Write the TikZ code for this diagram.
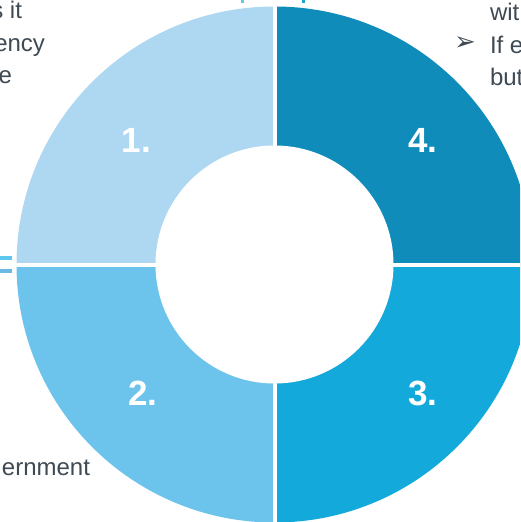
\documentclass[tikz,border=0pt]{standalone}
\usepackage{fontspec}
\setmainfont{Liberation Sans}
\newfontfamily\symfont{DejaVu Sans}
\begin{document}
\begin{tikzpicture}[x=1pt,y=-1pt,
  every node/.style={inner sep=0pt,outer sep=0pt},
  bodytext/.style={text=txtgray,font=\fontsize{24}{28}\selectfont},
  numlabel/.style={text=white,font=\fontsize{35}{40}\selectfont\bfseries},
  gapline/.style={draw=white,line width=4pt}]
\definecolor{qone}{HTML}{AED8F2}
\definecolor{qtwo}{HTML}{6CC3EC}
\definecolor{qthree}{HTML}{13A9DB}
\definecolor{qfour}{HTML}{0F8CB9}
\definecolor{txtgray}{HTML}{3F4A54}
\definecolor{barcyan}{HTML}{5CC8EF}
\definecolor{barblue}{HTML}{6CB9E6}
\definecolor{bardark}{HTML}{1AA3D9}

\useasboundingbox (0,0) rectangle (520,522);
\clip (0,0) rectangle (520,522);
\fill[white] (0,0) rectangle (520,522);

\coordinate (c) at (274.5,264.5);

% four ring quadrants
\begin{scope}
  \clip (c) circle[radius=258];
  \fill[qone]   (c) rectangle (0,0);
  \fill[qfour]  (c) rectangle (540,0);
  \fill[qtwo]   (c) rectangle (0,540);
  \fill[qthree] (c) rectangle (540,540);
\end{scope}
% separating gaps and the hole
\draw[gapline] (c) ++(0,-270) -- ++(0,540);
\draw[gapline] (c) ++(-270,0) -- ++(540,0);
\fill[white] (c) circle[radius=119];

% small bars at the edges
\fill[barcyan] (241,0) rectangle (244,3);
\fill[bardark] (302,0) rectangle (305,3);
\fill[barcyan] (0,256) rectangle (12,260);
\fill[barblue] (0,269) rectangle (12,273);

% quadrant numbers
\node[numlabel,anchor=base] (n1) at (136.5,152) {1.};
\node[numlabel,anchor=base] (n4) at (423,152) {4.};
\node[numlabel,anchor=base] (n2) at (143,405) {2.};
\node[numlabel,anchor=base] (n3) at (423,405) {3.};

% text at the top left
\node[bodytext,anchor=base east] (tl1) at (22,18) {s it};
\node[bodytext,anchor=base east] (tl2) at (45,51) {ency};
\node[bodytext,anchor=base east] (tl3) at (12,83) {e};

% text at the top right
\node[bodytext,anchor=base west] (tr1) at (490,20) {wit};
\node[text=txtgray,font=\symfont\fontsize{26}{30}\selectfont] (tr2b) at (465,44) {➢};
\node[bodytext,anchor=base west] (tr2) at (490,53) {If e};
\node[bodytext,anchor=base west] (tr3) at (490,85) {but};

% text at the bottom left
\node[bodytext,anchor=base east] (bl1) at (90,475) {ernment};
\end{tikzpicture}
\end{document}
